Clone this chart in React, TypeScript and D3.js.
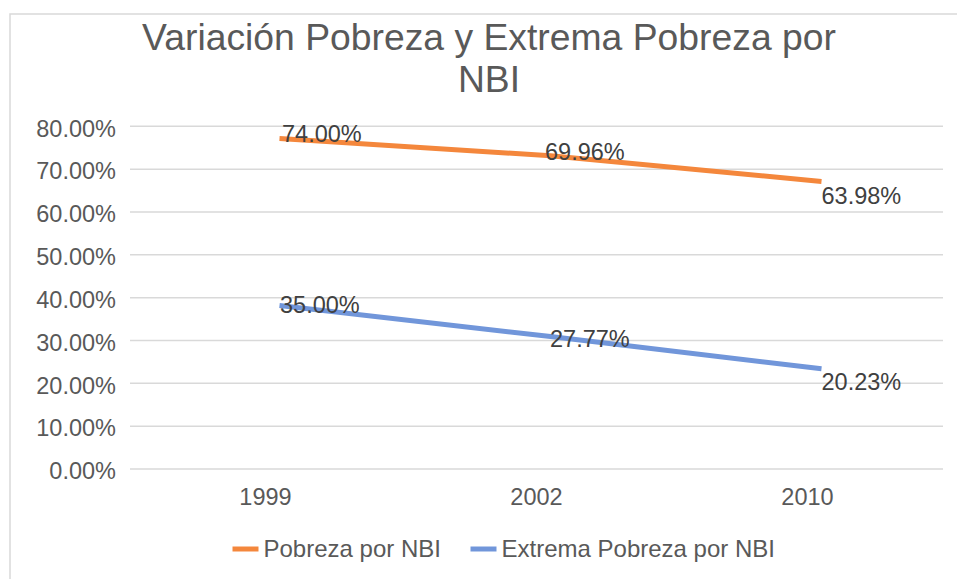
import React from "react";
import * as d3 from "d3";

const categories = ["1999", "2002", "2010"];
const pobreza = [0.74, 0.6996, 0.6398];
const extrema = [0.35, 0.2777, 0.2023];
const yTicks = [0, 0.1, 0.2, 0.3, 0.4, 0.5, 0.6, 0.7, 0.8];
const seriesNames = ["Pobreza por NBI", "Extrema Pobreza por NBI"];
const titleLines = ["Variación Pobreza y Extrema Pobreza por", "NBI"];

// styling: label offsets (dx, dy) relative to each point
const labelOffsets = [
  [[2.5, -4.5], [-5.5, -4], [0, 14.6]],
  [[0.5, -1], [-0.5, 2.5], [0, 13]],
];
const colors = ["#F4873C", "#7196DA"];

const W = 957;
const H = 579;
const FONT = "'Liberation Sans', Arial, sans-serif";

export default function App() {
  const x = d3.scaleBand().domain(categories).range([130, 943]);
  const y = d3.scaleLinear().domain([0, 0.8]).range([469, 126.3]);
  const cx = (c: string) => (x(c) as number) + x.bandwidth() / 2;
  const fmt = d3.format(".2%");
  const line = d3
    .line<number>()
    .x((_, i) => cx(categories[i]))
    .y((d) => y(d));
  const series = [pobreza, extrema];

  return (
    <svg
      width={W}
      height={H}
      style={{ position: "absolute", left: 0, top: 0, background: "#fff" }}
      fontFamily={FONT}
    >
      <rect x={0} y={0} width={W} height={H} fill="#fff" />
      <rect x={10} y={14} width={W + 10} height={H + 10} fill="#fff" stroke="#d9d9d9" strokeWidth={1.5} />
      {titleLines.map((t, i) => (
        <text key={t} x={489} y={50 + i * 42} textAnchor="middle" fontSize={37.3} fill="#595959">
          {t}
        </text>
      ))}
      {yTicks.map((t) => (
        <g key={t}>
          <line x1={130} x2={943} y1={y(t)} y2={y(t)} stroke="#d9d9d9" strokeWidth={1.5} />
          <text x={116} y={y(t) + 2} dy="0.35em" textAnchor="end" fontSize={23.5} fill="#595959">
            {fmt(t)}
          </text>
        </g>
      ))}
      {categories.map((c) => (
        <text key={c} x={cx(c)} y={505} textAnchor="middle" fontSize={23.5} fill="#595959">
          {c}
        </text>
      ))}
      <g transform="translate(14,-13.5)">
        {series.map((s, si) => (
          <path key={si} d={line(s) || ""} fill="none" stroke={colors[si]} strokeWidth={5} />
        ))}
        {series.map((s, si) =>
          s.map((v, i) => (
            <text
              key={si + "-" + i}
              x={cx(categories[i]) + labelOffsets[si][i][0]}
              y={y(v) + labelOffsets[si][i][1]}
              dy="0.35em"
              fontSize={23.5}
              fill="#404040"
            >
              {fmt(v)}
            </text>
          ))
        )}
      </g>
      {seriesNames.map((n, i) => {
        const lx = i === 0 ? 232.5 : 470.5;
        return (
          <g key={n}>
            <line x1={lx} x2={lx + 26} y1={549} y2={549} stroke={colors[i]} strokeWidth={5} />
            <text x={lx + 31} y={549} dy="0.35em" fontSize={24} fill="#595959">
              {n}
            </text>
          </g>
        );
      })}
    </svg>
  );
}
